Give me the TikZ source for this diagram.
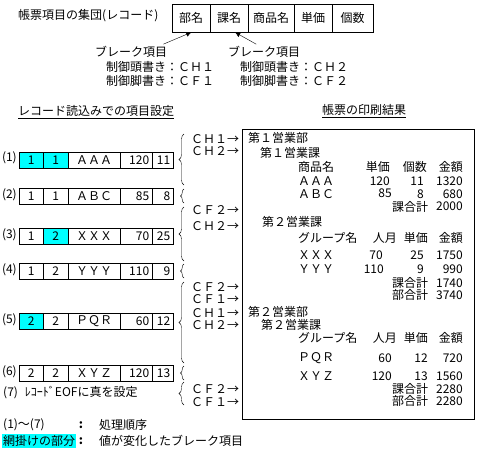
\documentclass[tikz,border=0pt]{standalone}
\usepackage{fontspec}
\setmainfont{Noto Sans CJK JP}
\usetikzlibrary{arrows.meta,decorations.pathreplacing}
\definecolor{hlcol}{RGB}{0,255,255}

\begin{document}
\begin{tikzpicture}[x=1pt, y=-1pt,
    font=\fontsize{12}{13}\selectfont,
    fld/.style={draw, minimum height=28pt, anchor=north west, inner sep=0pt},
    cell/.style={draw, minimum height=16pt, anchor=north west, inner sep=0pt},
    numcell/.style={cell, align=right},
    txt/.style={anchor=west, inner sep=0pt},
    num/.style={anchor=east, inner sep=0pt},
    brc/.style={decorate, decoration={brace, amplitude=5pt}},
    brcs/.style={decorate, decoration={brace, amplitude=3.5pt}},
    arr/.style={-{Latex[length=5pt, width=5pt]}},
]
\useasboundingbox (0,0) rectangle (481,448);

\node[txt] (rectitle) at (18,16) {帳票項目の集団(レコード)};
\node[fld, minimum width=38pt] (fbu) at (172,4) {部名};
\node[fld, minimum width=38pt] (fka) at (210,4) {課名};
\node[fld, minimum width=46pt] (fsh) at (248,4) {商品名};
\node[fld, minimum width=38pt] (ftan) at (294,4) {単価};
\node[fld, minimum width=41pt] (fko) at (332,4) {個数};

\node[txt] (brk1) at (95,52) {ブレーク項目};
\node[txt] (brk2) at (228,52) {ブレーク項目};
\node[txt] (ctl1h) at (106,67) {制御頭書き：ＣＨ１};
\node[txt] (ctl1f) at (106,81) {制御脚書き：ＣＦ１};
\node[txt] (ctl2h) at (240,67) {制御頭書き：ＣＨ２};
\node[txt] (ctl2f) at (240,81) {制御脚書き：ＣＦ２};
\draw[arr] ([shift={(-4,-2)}]brk1.north east) -- (fbu.south);
\draw[arr] ([shift={(-8,-2)}]brk2.north) -- ([xshift=6pt]fka.south);

\node[txt] (intitle) at (18,111) {レコード読込みでの項目設定};
\draw ([yshift=-1pt]intitle.south west) -- ([yshift=-1pt]intitle.south east);
\node[txt] (outtitle) at (322,110) {帳票の印刷結果};
\draw ([yshift=-1pt]outtitle.south west) -- ([yshift=-1pt]outtitle.south east);

\node[num] (l1) at (17,158) {(1)};
\node[cell, fill=hlcol, minimum width=24pt] (r1a) at (19,152) {1};
\node[cell, fill=hlcol, minimum width=25pt] (r1b) at (43,152) {1};
\node[cell, minimum width=52pt] (r1c) at (68,152) {ＡＡＡ};
\node[numcell, minimum width=32pt, text width=26pt] (r1d) at (120,152) {120};
\node[numcell, minimum width=21pt, text width=15pt] (r1e) at (152,152) {11};

\node[num] (l2) at (17,195) {(2)};
\node[cell, minimum width=24pt] (r2a) at (19,188) {1};
\node[cell, minimum width=25pt] (r2b) at (43,188) {1};
\node[cell, minimum width=52pt] (r2c) at (68,188) {ＡＢＣ};
\node[numcell, minimum width=32pt, text width=26pt] (r2d) at (120,188) {85};
\node[numcell, minimum width=21pt, text width=15pt] (r2e) at (152,188) {8};

\node[num] (l3) at (17,235) {(3)};
\node[cell, minimum width=24pt] (r3a) at (19,228) {1};
\node[cell, fill=hlcol, minimum width=25pt] (r3b) at (43,228) {2};
\node[cell, minimum width=52pt] (r3c) at (68,228) {ＸＸＸ};
\node[numcell, minimum width=32pt, text width=26pt] (r3d) at (120,228) {70};
\node[numcell, minimum width=21pt, text width=15pt] (r3e) at (152,228) {25};

\node[num] (l4) at (17,270) {(4)};
\node[cell, minimum width=24pt] (r4a) at (19,263) {1};
\node[cell, minimum width=25pt] (r4b) at (43,263) {2};
\node[cell, minimum width=52pt] (r4c) at (68,263) {ＹＹＹ};
\node[numcell, minimum width=32pt, text width=26pt] (r4d) at (120,263) {110};
\node[numcell, minimum width=21pt, text width=15pt] (r4e) at (152,263) {9};

\node[num] (l5) at (17,320) {(5)};
\node[cell, fill=hlcol, minimum width=24pt] (r5a) at (19,313) {2};
\node[cell, minimum width=25pt] (r5b) at (43,313) {2};
\node[cell, minimum width=52pt] (r5c) at (68,313) {ＰＱＲ};
\node[numcell, minimum width=32pt, text width=26pt] (r5d) at (120,313) {60};
\node[numcell, minimum width=21pt, text width=15pt] (r5e) at (152,313) {12};

\node[num] (l6) at (17,372) {(6)};
\node[cell, minimum width=24pt] (r6a) at (19,365) {2};
\node[cell, minimum width=25pt] (r6b) at (43,365) {2};
\node[cell, minimum width=52pt] (r6c) at (68,365) {ＸＹＺ};
\node[numcell, minimum width=32pt, text width=26pt] (r6d) at (120,365) {120};
\node[numcell, minimum width=21pt, text width=15pt] (r6e) at (152,365) {13};

\node[txt] (l7) at (3,393) {(7)\hspace{7pt}ﾚｺｰﾄﾞEOFに真を設定};

\draw[brc] (184,185) -- (184,134);
\draw[brcs] (184,203) -- (184,189);
\draw[brc] (184,261) -- (184,207);
\draw[brcs] (184,278) -- (184,264);
\draw[brc] (184,363) -- (184,282);
\draw[brcs] (184,380) -- (184,366);
\draw[brc] (184,405) -- (184,382);

\node[txt] (ev1a) at (191,139) {ＣＨ１→};
\node[txt] (ev1b) at (191,151) {ＣＨ２→};
\node[txt] (ev3a) at (191,210) {ＣＦ２→};
\node[txt] (ev3b) at (191,226) {ＣＨ２→};
\node[txt] (ev5a) at (191,287.5) {ＣＦ２→};
\node[txt] (ev5b) at (191,299.5) {ＣＦ１→};
\node[txt] (ev5c) at (191,313.5) {ＣＨ１→};
\node[txt] (ev5d) at (191,325.5) {ＣＨ２→};
\node[txt] (ev7a) at (191,389) {ＣＦ２→};
\node[txt] (ev7b) at (191,402) {ＣＦ１→};

\node[draw, anchor=north west, minimum width=232pt, minimum height=290pt, inner sep=0pt] (outbox) at (242,129) {};

\node[txt] (bu1) at (248,138) {第１営業部};
\node[txt] (ka1) at (260,153) {第１営業課};
\node[txt] (h1a) at (298,167) {商品名};
\node[num] (h1b) at (390,167) {単価};
\node[num] (h1c) at (427,167) {個数};
\node[num] (h1d) at (463,167) {金額};
\node[txt] (d1a) at (298,181) {ＡＡＡ};
\node[num] (d1b) at (390,181) {120};
\node[num] (d1c) at (424,181) {11};
\node[num] (d1d) at (463,181) {1320};
\node[txt] (d2a) at (298,194) {ＡＢＣ};
\node[num] (d2b) at (392,193) {85};
\node[num] (d2c) at (424,194) {8};
\node[num] (d2d) at (463,194) {680};
\node[txt] (s1a) at (392,206.5) {課合計};
\node[num] (s1b) at (463,206.5) {2000};

\node[txt] (ka2) at (262,222) {第２営業課};
\node[txt] (h2a) at (298,238) {グループ名};
\node[num] (h2b) at (397,238) {人月};
\node[num] (h2c) at (428,238) {単価};
\node[num] (h2d) at (463,238) {金額};
\node[txt] (d3a) at (298,255) {ＸＸＸ};
\node[num] (d3b) at (383,255) {70};
\node[num] (d3c) at (424,255) {25};
\node[num] (d3d) at (463,255) {1750};
\node[txt] (d4a) at (298,269) {ＹＹＹ};
\node[num] (d4b) at (384,269) {110};
\node[num] (d4c) at (424,269) {9};
\node[num] (d4d) at (463,269) {990};
\node[txt] (s2a) at (392,283) {課合計};
\node[num] (s2b) at (463,283) {1740};
\node[txt] (t1a) at (392,295) {部合計};
\node[num] (t1b) at (463,295) {3740};

\node[txt] (bu2) at (248,312) {第２営業部};
\node[txt] (ka3) at (261,325) {第２営業課};
\node[txt] (h3a) at (298,338) {グループ名};
\node[num] (h3b) at (397,338) {人月};
\node[num] (h3c) at (428,338) {単価};
\node[num] (h3d) at (463,338) {金額};
\node[txt] (d5a) at (298,358) {ＰＱＲ};
\node[num] (d5b) at (392,358) {60};
\node[num] (d5c) at (428,358) {12};
\node[num] (d5d) at (463,358) {720};
\node[txt] (d6a) at (298,376) {ＸＹＺ};
\node[num] (d6b) at (392,376) {120};
\node[num] (d6c) at (428,376) {13};
\node[num] (d6d) at (463,376) {1560};
\node[txt] (s3a) at (392,389) {課合計};
\node[num] (s3b) at (463,389) {2280};
\node[txt] (t2a) at (392,401) {部合計};
\node[num] (t2b) at (463,401) {2280};

\node[txt] (lg1) at (3,425) {(1)～(7)};
\node[inner sep=0pt] (lg1c) at (81,425) {\textbf{:}};
\node[txt] (lg1t) at (99,425) {処理順序};
\node[txt, fill=hlcol, inner sep=1pt] (lg2) at (2,441) {網掛けの部分};
\node[inner sep=0pt] (lg2c) at (81,441) {\textbf{:}};
\node[txt] (lg2t) at (99,441) {値が変化したブレーク項目};
\end{tikzpicture}
\end{document}
